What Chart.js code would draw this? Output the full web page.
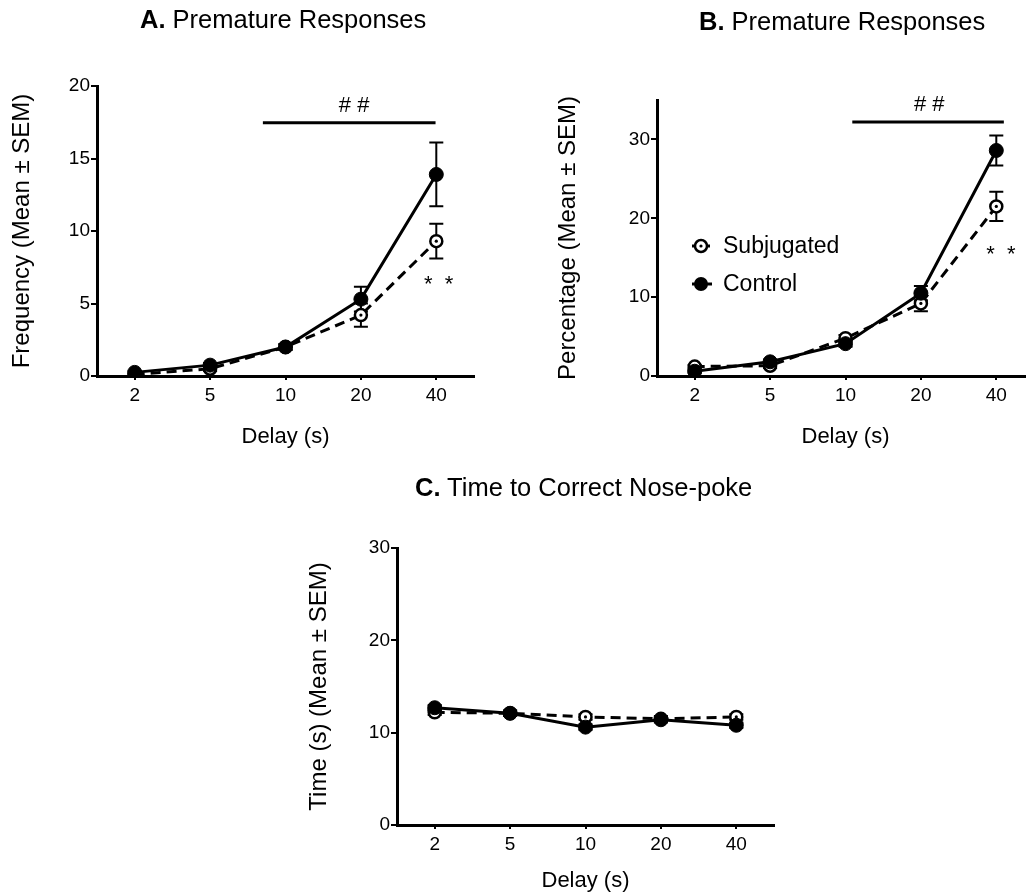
<!DOCTYPE html>
<html><head><meta charset="utf-8">
<script src="https://cdn.jsdelivr.net/npm/chart.js@4.4.1/dist/chart.umd.min.js"></script>
<style>
html,body{margin:0;padding:0;background:#fff;overflow:hidden;}
#wrap{position:relative;width:1026px;height:896px;overflow:hidden;background:#fff;}
canvas{position:absolute;left:0;top:0;}
.ttl{position:absolute;font-family:"Liberation Sans",Arial,sans-serif;font-size:25.5px;line-height:25.5px;color:#000;white-space:nowrap;}
</style></head><body>
<div id="wrap">
<canvas id="cA" width="1060" height="920"></canvas>
<canvas id="cB" width="1060" height="920"></canvas>
<canvas id="cC" width="1060" height="920"></canvas>
<div class="ttl" style="left:140px;top:7px"><b>A.</b> Premature Responses</div>
<div class="ttl" style="left:699px;top:9px"><b>B.</b> Premature Responses</div>
<div class="ttl" style="left:415px;top:475px"><b>C.</b> Time to Correct Nose-poke</div>
</div>
<script>
// ---- data ----
const categories = ['2', '5', '10', '20', '40'];

const aControl    = [0.25, 0.75, 2.0, 5.3, 13.9];
const aControlSem = [0.1, 0.15, 0.2, 0.85, 2.2];
const aSubj       = [0.1, 0.5, 2.0, 4.2, 9.3];
const aSubjSem    = [0.05, 0.15, 0.2, 0.8, 1.2];
const aTicks      = [0, 5, 10, 15, 20];

const bControl    = [0.6, 1.8, 4.1, 10.5, 28.6];
const bControlSem = [0.2, 0.3, 0.4, 0.9, 1.9];
const bSubj       = [1.2, 1.3, 4.8, 9.2, 21.5];
const bSubjSem    = [0.2, 0.3, 0.4, 1.0, 1.85];
const bTicks      = [0, 10, 20, 30];

const cControl    = [12.7, 12.1, 10.6, 11.4, 10.8];
const cControlSem = [0.3, 0.3, 0.3, 0.3, 0.3];
const cSubj       = [12.2, 12.1, 11.7, 11.5, 11.7];
const cSubjSem    = [0.3, 0.3, 0.3, 0.3, 0.3];
const cTicks      = [0, 10, 20, 30];

// significance marks (category index / value units)
const aHashBar  = [1.70, 3.99, 17.47];
const aHashText = [2.91, 18.6, '# #'];
const aStars    = [4.03, 6.75, '*  *'];
const bHashBar  = [2.09, 4.10, 32.2];
const bHashText = [3.11, 34.4, '# #'];
const bStars    = [4.06, 16.2, '*  *'];

const FONT = "'Liberation Sans', Arial, sans-serif";
Chart.defaults.font.family = FONT;
Chart.defaults.color = '#000';

const errorBarPlugin = {
  id: 'errorBars',
  beforeDatasetsDraw(chart) {
    const ctx = chart.ctx, xs = chart.scales.x, ys = chart.scales.y;
    chart.data.datasets.forEach(ds => {
      if (!ds.sem) return;
      ctx.save();
      ctx.strokeStyle = '#000';
      ctx.lineWidth = 2;
      ds.data.forEach((v, j) => {
        const px = xs.getPixelForValue(j);
        const t = ys.getPixelForValue(v + ds.sem[j]);
        const b = ys.getPixelForValue(Math.max(0, v - ds.sem[j]));
        ctx.beginPath();
        ctx.moveTo(px, t); ctx.lineTo(px, b);
        ctx.moveTo(px - 7, t); ctx.lineTo(px + 7, t);
        ctx.moveTo(px - 7, b); ctx.lineTo(px + 7, b);
        ctx.stroke();
      });
      ctx.restore();
    });
  }
};

const centerDotPlugin = {
  id: 'centerDot',
  afterDatasetsDraw(chart) {
    const ctx = chart.ctx;
    chart.data.datasets.forEach((ds, i) => {
      if (!ds.centerDot) return;
      chart.getDatasetMeta(i).data.forEach(pt => {
        ctx.save();
        ctx.fillStyle = '#000';
        ctx.beginPath();
        ctx.arc(pt.x, pt.y, 1.6, 0, Math.PI * 2);
        ctx.fill();
        ctx.restore();
      });
    });
  }
};

const sigPlugin = {
  id: 'sig',
  afterDraw(chart, args, opts) {
    if (!opts || !opts.bar) return;
    const ctx = chart.ctx, xs = chart.scales.x, ys = chart.scales.y;
    ctx.save();
    ctx.strokeStyle = '#000';
    ctx.fillStyle = '#000';
    ctx.lineWidth = 3;
    const by = ys.getPixelForValue(opts.bar[2]);
    ctx.beginPath();
    ctx.moveTo(xs.getPixelForValue(opts.bar[0]), by);
    ctx.lineTo(xs.getPixelForValue(opts.bar[1]), by);
    ctx.stroke();
    ctx.font = '22px ' + FONT;
    ctx.textAlign = 'center';
    ctx.textBaseline = 'middle';
    ctx.fillText(opts.hash[2], xs.getPixelForValue(opts.hash[0]), ys.getPixelForValue(opts.hash[1]));
    ctx.font = '22px ' + FONT;
    ctx.textBaseline = 'alphabetic';
    ctx.fillText(opts.stars[2], xs.getPixelForValue(opts.stars[0]), ys.getPixelForValue(opts.stars[1]) + 12.5);
    ctx.restore();
  }
};

const refLegendPlugin = {
  id: 'refLegend',
  afterDraw(chart, args, opts) {
    if (!opts || !opts.show) return;
    const ctx = chart.ctx, a = chart.chartArea;
    const cx = a.left + 44;
    const rows = [
      {label: 'Subjugated', y: a.top + 146, open: true},
      {label: 'Control', y: a.top + 184, open: false}
    ];
    ctx.save();
    rows.forEach(r => {
      ctx.strokeStyle = '#000';
      ctx.lineWidth = 3;
      ctx.setLineDash(r.open ? [4, 3] : []);
      ctx.beginPath();
      ctx.moveTo(cx - 9, r.y); ctx.lineTo(cx + 11, r.y);
      ctx.stroke();
      ctx.setLineDash([]);
      ctx.beginPath();
      if (r.open) {
        ctx.arc(cx, r.y, 6, 0, Math.PI * 2);
        ctx.fillStyle = '#fff'; ctx.fill();
        ctx.lineWidth = 2.5; ctx.stroke();
        ctx.beginPath(); ctx.fillStyle = '#000';
        ctx.arc(cx, r.y, 1.6, 0, Math.PI * 2); ctx.fill();
      } else {
        ctx.arc(cx, r.y, 7, 0, Math.PI * 2);
        ctx.fillStyle = '#000'; ctx.fill();
      }
      ctx.fillStyle = '#000';
      ctx.font = '23px ' + FONT;
      ctx.textAlign = 'left';
      ctx.textBaseline = 'middle';
      ctx.fillText(r.label, cx + 22, r.y + 1);
    });
    ctx.restore();
  }
};

function makeChart(id, cfg) {
  return new Chart(document.getElementById(id), {
    type: 'line',
    data: {
      labels: categories,
      datasets: [
        {label: 'Control', data: cfg.control, sem: cfg.controlSem,
         borderColor: '#000', borderWidth: 3, tension: 0, fill: false,
         pointRadius: 7, pointBackgroundColor: '#000', pointBorderColor: '#000', pointBorderWidth: 1},
        {label: 'Subjugated', data: cfg.subj, sem: cfg.subjSem, centerDot: true,
         borderColor: '#000', borderWidth: 3, borderDash: [10, 6], tension: 0, fill: false,
         pointRadius: 6, pointBackgroundColor: '#fff', pointBorderColor: '#000', pointBorderWidth: 2.5}
      ]
    },
    options: {
      responsive: false, animation: false, events: [],
      layout: {padding: cfg.padding},
      plugins: {
        legend: {display: false}, tooltip: {enabled: false},
        sig: cfg.sig || {}, refLegend: {show: !!cfg.legend}
      },
      scales: {
        x: {
          type: 'category', offset: true,
          grid: {display: true, drawOnChartArea: false, tickLength: 4, color: '#000', lineWidth: 2},
          border: {display: true, color: '#000', width: 3},
          ticks: {color: '#000', font: {size: 19}, padding: 4, maxRotation: 0},
          title: {display: true, text: 'Delay (s)', color: '#000', font: {size: 22}, padding: 0},
          afterFit: s => { s.height = cfg.xh; }
        },
        y: {
          min: 0, max: cfg.ymax,
          afterBuildTicks: s => { s.ticks = cfg.ticks.map(v => ({value: v})); },
          grid: {display: true, drawOnChartArea: false, tickLength: 6, color: '#000', lineWidth: 2},
          border: {display: true, color: '#000', width: 3},
          ticks: {color: '#000', font: {size: 19}, padding: 1},
          title: {display: true, text: cfg.ytitle, color: '#000', font: {size: 24}, padding: 0},
          afterFit: s => { s.width = cfg.yw; }
        }
      }
    },
    plugins: [errorBarPlugin, centerDotPlugin, sigPlugin, refLegendPlugin]
  });
}

makeChart('cA', {
  control: aControl, controlSem: aControlSem, subj: aSubj, subjSem: aSubjSem,
  ticks: aTicks, ymax: 20, ytitle: 'Frequency (Mean ± SEM)',
  yw: 89, xh: 74, padding: {left: 8, top: 86, right: 586, bottom: 470},
  sig: {bar: aHashBar, hash: aHashText, stars: aStars}
});
makeChart('cB', {
  control: bControl, controlSem: bControlSem, subj: bSubj, subjSem: bSubjSem,
  ticks: bTicks, ymax: 35, ytitle: 'Percentage (Mean ± SEM)',
  yw: 103, xh: 74, padding: {left: 554, top: 100, right: 26, bottom: 470},
  sig: {bar: bHashBar, hash: bHashText, stars: bStars}, legend: true
});
makeChart('cC', {
  control: cControl, controlSem: cControlSem, subj: cSubj, subjSem: cSubjSem,
  ticks: cTicks, ymax: 30, ytitle: 'Time (s) (Mean ± SEM)',
  yw: 92, xh: 69, padding: {left: 305, top: 548, right: 286, bottom: 26}
});
</script>
</body></html>
